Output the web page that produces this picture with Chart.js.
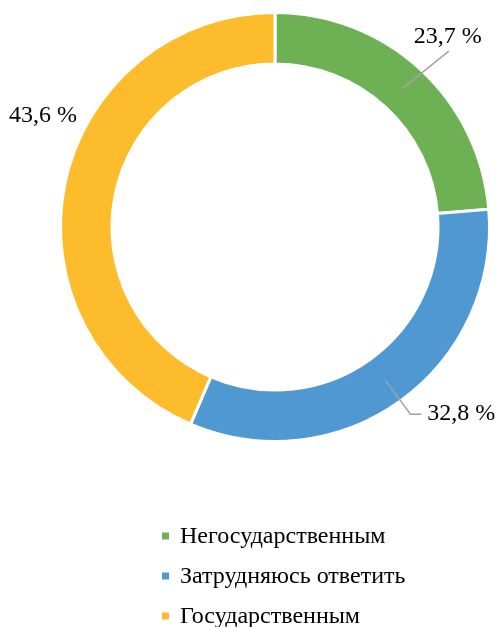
<!DOCTYPE html>
<html>
<head>
<meta charset="utf-8">
<script src="https://cdn.jsdelivr.net/npm/chart.js@4.4.1/dist/chart.umd.min.js"></script>
<style>
  html, body { margin: 0; padding: 0; background: #fff; }
  canvas { display: block; }
</style>
</head>
<body>
<canvas id="chart" width="497" height="627"></canvas>
<script>
const categories = ['Негосударственным', 'Затрудняюсь ответить', 'Государственным'];
const shares = [23.7, 32.8, 43.6];
const sliceColors = ['#6EB155', '#4F98D2', '#FCBC2B'];

// callouts, relative to the middle of each ring segment
const callouts = [
    { line: [[46, -37]], text: [45, -51], align: 'center' },
    { line: [[25, 34], [36, 34]], text: [42, 34], align: 'left' },
    { line: [], text: [-47, -73], align: 'center' },
];

const serif = '"Liberation Serif", "Times New Roman", serif';
const fmt = v => v.toFixed(1).replace('.', ',') + ' %';

const calloutPlugin = {
    id: 'callouts',
    afterDatasetsDraw(chart) {
        const ctx = chart.ctx;
        const meta = chart.getDatasetMeta(0);
        ctx.save();
        meta.data.forEach((arc, i) => {
            const { x, y, startAngle, endAngle, innerRadius, outerRadius } = arc.getProps(
                ['x', 'y', 'startAngle', 'endAngle', 'innerRadius', 'outerRadius'], true);
            const mid = (startAngle + endAngle) / 2;
            const r = (innerRadius + outerRadius) / 2;
            const ax = x + Math.cos(mid) * r;
            const ay = y + Math.sin(mid) * r;
            const c = callouts[i];
            if (c.line.length) {
                ctx.strokeStyle = '#A3A3A3';
                ctx.lineWidth = 1.5;
                ctx.beginPath();
                ctx.moveTo(ax, ay);
                c.line.forEach(p => ctx.lineTo(ax + p[0], ay + p[1]));
                ctx.stroke();
            }
            ctx.fillStyle = '#000';
            ctx.font = `24px ${serif}`;
            ctx.textAlign = c.align;
            ctx.textBaseline = 'middle';
            ctx.fillText(fmt(chart.data.datasets[0].data[i]), ax + c.text[0], ay + c.text[1]);
        });
        ctx.restore();
    }
};

// vertical legend under the ring
const legendPlugin = {
    id: 'vlegend',
    afterDraw(chart) {
        const ctx = chart.ctx;
        const colors = chart.data.datasets[0].backgroundColor;
        ctx.save();
        ctx.font = `24px ${serif}`;
        ctx.textAlign = 'left';
        ctx.textBaseline = 'middle';
        chart.data.labels.forEach((label, i) => {
            const cy = 536 + i * 40;
            ctx.fillStyle = colors[i];
            ctx.fillRect(162, cy - 3.5, 7, 7);
            ctx.fillStyle = '#000';
            ctx.fillText(label, 180, cy + 1);
        });
        ctx.restore();
    }
};

new Chart(document.getElementById('chart'), {
    type: 'doughnut',
    plugins: [calloutPlugin, legendPlugin],
    data: {
        labels: categories,
        datasets: [{
            data: shares,
            backgroundColor: sliceColors,
            borderColor: '#fff',
            borderWidth: 3,
        }]
    },
    options: {
        responsive: false,
        animation: false,
        cutout: '76%',
        layout: { padding: { left: 59, top: 11, right: 6, bottom: 184 } },
        plugins: {
            legend: { display: false },
            tooltip: { enabled: false },
        }
    }
});
</script>
</body>
</html>
